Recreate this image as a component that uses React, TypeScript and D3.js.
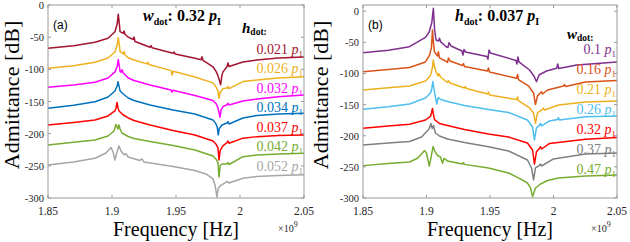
import React from "react";
import * as d3 from "d3";

// frequency in GHz (axis shows x 10^9), admittance in dB
const ticksX = [1.85, 1.9, 1.95, 2.0, 2.05];
const tickLabelsX = ["1.85", "1.9", "1.95", "2", "2.05"];
const ticksY = [0, -50, -100, -150, -200, -250, -300];

const labelsA = ["0.021", "0.026", "0.032", "0.034", "0.037", "0.042", "0.052"];
const colorsA = ["#A2142F", "#EDB120", "#FF00FF", "#0072BD", "#FF0000", "#77AC30", "#A6A6A6"];
const labelsB = ["0.1", "0.16", "0.21", "0.26", "0.32", "0.37", "0.47"];
const colorsB = ["#7E2F8E", "#D95319", "#EDB120", "#4DBEEE", "#FF0000", "#808080", "#77AC30"];

// panel (a): w_dot = 0.32 p1, varying h_dot
const hdot021: [number, number][] = [[1.85,-67.3],[1.87,-63.5],[1.8867,-58],[1.8969,-51.8],[1.9023,-41.5],[1.904,-30],[1.9049,-14.5],[1.9058,-30],[1.9063,-41.5],[1.9088,-44],[1.9094,-40.4],[1.9102,-45.8],[1.9127,-50],[1.9166,-53.6],[1.9172,-49.7],[1.918,-56.7],[1.9297,-65.7],[1.9305,-63],[1.9313,-66.5],[1.9477,-75],[1.9485,-73],[1.9493,-76],[1.9648,-82.8],[1.9695,-85],[1.9703,-80.5],[1.9711,-86],[1.9789,-96],[1.9815,-104],[1.9828,-110],[1.9849,-124],[1.9858,-110],[1.9867,-104],[1.9898,-96],[1.9906,-90],[1.9914,-95.5],[2.0023,-88.6],[2.0133,-85.5],[2.03,-82.5],[2.05,-80.8]];
const hdot026: [number, number][] = [[1.85,-98.4],[1.87,-94.5],[1.8867,-89],[1.8969,-82.4],[1.9023,-73],[1.904,-63],[1.9049,-50.8],[1.9058,-63],[1.9063,-72.6],[1.9088,-76],[1.9094,-72.3],[1.9102,-77.7],[1.9127,-82],[1.9172,-85.5],[1.9272,-91.5],[1.928,-89],[1.9288,-92.5],[1.9462,-102],[1.947,-109],[1.9478,-103],[1.9648,-112],[1.9789,-121],[1.9815,-128],[1.9828,-134],[1.9836,-145],[1.9845,-136],[1.9867,-130],[1.9898,-129],[1.9906,-126.5],[1.9914,-130],[2.0023,-119],[2.0133,-116.5],[2.03,-113.5],[2.05,-111.4]];
const hdot032: [number, number][] = [[1.85,-128],[1.87,-124.5],[1.8867,-120],[1.8969,-113.4],[1.9023,-104],[1.904,-96],[1.9049,-84.7],[1.9058,-96],[1.9063,-103.6],[1.9071,-104.5],[1.9078,-100.5],[1.9088,-105.7],[1.9127,-113.4],[1.9172,-117.3],[1.9297,-124.3],[1.946,-132],[1.9468,-135.5],[1.9476,-132.5],[1.9648,-140.6],[1.9789,-148.4],[1.9815,-154],[1.9828,-160],[1.9844,-174.5],[1.9852,-163],[1.9867,-158],[1.9898,-155],[1.9906,-152.8],[1.9914,-155.4],[2.0023,-149.2],[2.0133,-146],[2.03,-142.5],[2.05,-140]];
const hdot034: [number, number][] = [[1.85,-160.5],[1.87,-156],[1.8867,-150.3],[1.8969,-143],[1.9023,-133.6],[1.904,-126],[1.9047,-119.2],[1.9055,-126],[1.9063,-133.6],[1.9088,-138.3],[1.9127,-144.5],[1.9172,-148.4],[1.9297,-155.4],[1.9477,-163.2],[1.9648,-169.4],[1.9789,-178.7],[1.981,-184],[1.9822,-189.6],[1.983,-202],[1.9838,-192],[1.9859,-186.5],[1.9898,-183.5],[1.9906,-181.3],[1.9914,-185],[2.0023,-175.6],[2.0133,-171.7],[2.03,-169.5],[2.05,-168.3]];
const hdot037: [number, number][] = [[1.85,-186.5],[1.87,-182.5],[1.8867,-178.7],[1.8969,-172.5],[1.9023,-164.7],[1.9032,-160],[1.9039,-151.5],[1.9047,-160],[1.9055,-164.7],[1.9088,-171],[1.9127,-175.6],[1.9172,-179.5],[1.9297,-186.5],[1.9477,-195],[1.9648,-202],[1.9789,-211.3],[1.9815,-217],[1.9828,-222],[1.9836,-240.9],[1.9845,-226],[1.9867,-219],[1.9898,-214],[1.9906,-211.3],[1.9914,-215],[2.0023,-207],[2.0133,-204.6],[2.03,-203],[2.05,-202]];
const hdot042: [number, number][] = [[1.85,-217.6],[1.87,-213.5],[1.8867,-209.8],[1.8969,-203.6],[1.9016,-195.8],[1.9031,-185.7],[1.9039,-188.8],[1.9047,-192.7],[1.9055,-186.5],[1.9063,-192.7],[1.9078,-199],[1.9127,-204.4],[1.9172,-207.5],[1.9297,-212],[1.9477,-218.3],[1.9648,-225.3],[1.9789,-234.7],[1.9815,-240],[1.9828,-245.5],[1.9836,-267.3],[1.9845,-250],[1.9859,-247],[1.9898,-247],[1.9906,-244.8],[1.9914,-247.9],[2.0023,-235.7],[2.0133,-233],[2.03,-231.5],[2.05,-230.5]];
const hdot052: [number, number][] = [[1.85,-248.6],[1.87,-244],[1.8867,-238.2],[1.8953,-230],[1.8992,-221.4],[1.9008,-228.4],[1.9023,-240.9],[1.9039,-228.4],[1.9055,-219],[1.907,-226.9],[1.9094,-233],[1.9109,-230.8],[1.9125,-236.2],[1.9219,-241.6],[1.9234,-239.3],[1.925,-244],[1.9477,-251],[1.9648,-257.2],[1.9734,-262.6],[1.9789,-270.4],[1.9805,-279.7],[1.982,-298.4],[1.983,-285],[1.9844,-281.3],[1.9883,-276.6],[1.9898,-274.3],[1.9914,-276.6],[2.0023,-269.3],[2.0133,-266.5],[2.03,-265],[2.05,-264]];

// panel (b): h_dot = 0.037 p1, varying w_dot
const wdot10: [number, number][] = [[1.85,-66.6],[1.87,-62.5],[1.8866,-57],[1.8992,-42],[1.9022,-33],[1.9042,-18],[1.9054,4.7],[1.9064,-30],[1.9075,-46.2],[1.9095,-47.8],[1.9102,-43.5],[1.9112,-49.2],[1.9155,-57],[1.9169,-58.3],[1.9177,-50.5],[1.9193,-55.8],[1.9279,-63.9],[1.9287,-70.3],[1.9295,-61.5],[1.9307,-65.5],[1.9476,-72.7],[1.9484,-77.2],[1.9492,-62.3],[1.9504,-67],[1.9704,-79.1],[1.9712,-84.8],[1.972,-73.5],[1.9728,-81.5],[1.9811,-94.4],[1.9846,-104],[1.9866,-113.2],[1.9886,-102.4],[1.9945,-96],[2.0025,-91.7],[2.0033,-84.8],[2.0041,-92],[2.0183,-86.4],[2.05,-81.5]];
const wdot16: [number, number][] = [[1.85,-97.1],[1.87,-93.5],[1.8866,-90.4],[1.8992,-81.5],[1.9025,-70],[1.9039,-58],[1.9047,-30],[1.9055,-52],[1.9063,-65],[1.9087,-71.9],[1.9094,-65],[1.9102,-75],[1.9157,-80.7],[1.9165,-82.3],[1.9173,-75],[1.9185,-80],[1.9283,-87.2],[1.9291,-84],[1.9299,-88.8],[1.948,-96],[1.9488,-91.2],[1.9496,-97.6],[1.9709,-107.7],[1.9717,-101.6],[1.9724,-109.7],[1.9803,-120],[1.9843,-131.3],[1.9858,-149.8],[1.9874,-136],[1.9898,-131],[1.9906,-129.2],[1.9913,-133],[1.9953,-126.5],[2.0079,-120],[2.0087,-117.7],[2.0095,-121],[2.0252,-113.7],[2.05,-111.3]];
const wdot21: [number, number][] = [[1.85,-126.5],[1.87,-123],[1.8866,-120],[1.8992,-112],[1.9031,-103.5],[1.9045,-92],[1.9054,-78.3],[1.9063,-90],[1.9075,-97],[1.9091,-104],[1.9098,-100],[1.911,-105.6],[1.9165,-114.5],[1.9173,-111.3],[1.9185,-115.3],[1.9299,-123.3],[1.9307,-120.9],[1.9315,-124],[1.948,-133],[1.9488,-129.7],[1.9496,-134.5],[1.9709,-141.8],[1.9717,-137.8],[1.9724,-143.4],[1.9811,-155.4],[1.9843,-163.4],[1.9858,-180],[1.9874,-163.4],[1.9913,-157.8],[1.9921,-155.4],[1.9929,-158.6],[2.0039,-150.6],[2.0252,-145.8],[2.05,-144.2]];
const wdot26: [number, number][] = [[1.85,-157.5],[1.87,-153.5],[1.8866,-149],[1.8992,-139.4],[1.9031,-131.3],[1.9042,-124],[1.905,-112.9],[1.9058,-124],[1.9066,-133],[1.9081,-149],[1.9093,-138.6],[1.9113,-141.8],[1.9165,-145],[1.9299,-151.4],[1.9488,-157.8],[1.9646,-162.6],[1.9795,-174.7],[1.9835,-186],[1.985,-206.8],[1.9866,-187.5],[1.989,-183],[1.9898,-180],[1.9906,-184.3],[1.9969,-176.3],[2.0031,-174],[2.0039,-171],[2.0047,-174.7],[2.0252,-169.4],[2.05,-168.3]];
const wdot32: [number, number][] = [[1.85,-188],[1.87,-184.5],[1.8866,-181.6],[1.8992,-174.7],[1.9031,-169],[1.904,-163],[1.9047,-156.2],[1.9055,-166],[1.9063,-174],[1.9102,-180.3],[1.9165,-183.5],[1.9299,-190],[1.9488,-197.2],[1.9646,-202],[1.9795,-211.6],[1.9835,-222.9],[1.985,-245.4],[1.9866,-225.6],[1.989,-220],[1.9898,-217.6],[1.9906,-221.3],[1.9969,-212.4],[2.0252,-205.7],[2.05,-202.8]];
const wdot37: [number, number][] = [[1.85,-214.8],[1.87,-211.5],[1.8866,-209.2],[1.8961,-202],[1.902,-189],[1.9035,-180.3],[1.9045,-188.3],[1.9055,-183.5],[1.907,-195.6],[1.9102,-200.4],[1.9165,-205.2],[1.9299,-210.8],[1.9488,-217.6],[1.9646,-224.5],[1.9795,-239],[1.9827,-251.8],[1.9843,-271],[1.9858,-251.8],[1.989,-247.5],[1.9898,-245.4],[1.9906,-248.6],[2.0,-237.3],[2.0252,-229.3],[2.05,-227.7]];
const wdot47: [number, number][] = [[1.85,-248],[1.87,-244.5],[1.8866,-242.1],[1.8929,-236.2],[1.8961,-229.3],[1.8984,-223.7],[1.9,-227.7],[1.9022,-248.6],[1.9035,-235.7],[1.9052,-217.2],[1.9068,-226],[1.9087,-231.7],[1.911,-234.1],[1.9126,-244.2],[1.9138,-236.5],[1.9165,-240.5],[1.9283,-245.4],[1.9291,-243],[1.9299,-246],[1.9488,-251.8],[1.9646,-259.8],[1.9724,-267.8],[1.9795,-275.9],[1.9819,-283.9],[1.9835,-297.9],[1.9858,-283.9],[1.9898,-277.5],[1.9953,-271.9],[2.0039,-267.8],[2.0252,-264.6],[2.05,-263]];

const seriesA = [hdot021, hdot026, hdot032, hdot034, hdot037, hdot042, hdot052];
const seriesB = [wdot10, wdot16, wdot21, wdot26, wdot32, wdot37, wdot47];

const serif = "Liberation Serif, Times New Roman, serif";
const TOP = 5;
const BOTTOM = 198;

function Panel(props: any) {
  const { left, right, yTop, series, colors, labels, labelY, labelStep, tag, titleVar, titleVal, titleX, subVar, subX, subY, ylabelX } = props;
  const x = d3.scaleLinear().domain([1.85, 2.05]).range([left, right]);
  const y = d3.scaleLinear().domain([-300, yTop]).range([BOTTOM, TOP]);
  const line = d3.line<[number, number]>().x(d => x(d[0])).y(d => y(d[1]));
  const axisCol = "#9a9a9a";

  return (
    <g>
      {series.map((s: [number, number][], i: number) => (
        <path key={i} d={line(s) || ""} fill="none" stroke={colors[i]} strokeWidth={1.5} strokeLinejoin="round" />
      ))}
      <rect x={left} y={TOP} width={right - left} height={BOTTOM - TOP} fill="none" stroke={axisCol} strokeWidth={1} />
      {ticksX.map((t, i) => (
        <g key={"x" + i}>
          <line x1={x(t)} x2={x(t)} y1={BOTTOM} y2={BOTTOM - 3} stroke={axisCol} />
          <line x1={x(t)} x2={x(t)} y1={TOP} y2={TOP + 3} stroke={axisCol} />
          <text x={x(t)} y={215} textAnchor="middle" fontFamily={serif} fontSize={11.5} fill="#262626">{tickLabelsX[i]}</text>
        </g>
      ))}
      {ticksY.map((t, i) => (
        <g key={"y" + i}>
          <line x1={left} x2={left + 3} y1={y(t)} y2={y(t)} stroke={axisCol} />
          <line x1={right} x2={right - 3} y1={y(t)} y2={y(t)} stroke={axisCol} />
          <text x={left - 4} y={y(t) + 4} textAnchor="end" fontFamily={serif} fontSize={10.5} fill="#262626">{t}</text>
        </g>
      ))}
      <text x={right - 26} y={232} fontFamily={serif} fontSize={10} fill="#262626">
        ×10<tspan dy={-5} fontSize={8}>9</tspan>
      </text>
      <text x={(left + right) / 2} y={236} textAnchor="middle" fontFamily={serif} fontSize={20} fill="#000">Frequency [Hz]</text>
      <text transform={`translate(${ylabelX},95) rotate(-90)`} textAnchor="middle" fontFamily={serif} fontSize={22} fill="#000">Admittance [dB]</text>
      <text x={left + 5} y={29} fontFamily="Liberation Sans, Arial, sans-serif" fontSize={12} fill="#000">{tag}</text>
      <text x={titleX} y={21} fontFamily={serif} fontSize={16} fontWeight="bold" fill="#000">
        <tspan fontStyle="italic">{titleVar}</tspan>
        <tspan fontSize={10} dy={4}>dot</tspan>
        <tspan dy={-4}>{": " + titleVal + " "}</tspan>
        <tspan fontStyle="italic">p</tspan>
        <tspan fontSize={10} dy={4}>I</tspan>
      </text>
      <text x={subX} y={subY} fontFamily={serif} fontSize={15} fontWeight="bold" fill="#000">
        <tspan fontStyle="italic">{subVar}</tspan>
        <tspan fontSize={9.5} dy={2}>dot:</tspan>
      </text>
      {labels.map((lab: string, i: number) => (
        <text key={"l" + i} x={right - 1} y={labelY + i * labelStep} textAnchor="end" fontFamily={serif} fontSize={14} fill={colors[i]}>
          {lab + " "}
          <tspan fontStyle="italic">p</tspan>
          <tspan fontSize={9} dy={3}>1</tspan>
        </text>
      ))}
    </g>
  );
}

export default function App() {
  return (
    <svg width={630} height={242} style={{ position: "absolute", left: 0, top: 0, background: "#fff" }}>
      <Panel left={48} right={304} yTop={0} series={seriesA} colors={colorsA} labels={labelsA}
        labelY={53.5} labelStep={19.5} tag="(a)" titleVar="w" titleVal="0.32" titleX={143}
        subVar="h" subX={242} subY={33} ylabelX={19} />
      <Panel left={363} right={617} yTop={10} series={seriesB} colors={colorsB} labels={labelsB}
        labelY={53.5} labelStep={20} tag="(b)" titleVar="h" titleVal="0.037" titleX={455}
        subVar="w" subX={567} subY={39} ylabelX={328} />
    </svg>
  );
}
